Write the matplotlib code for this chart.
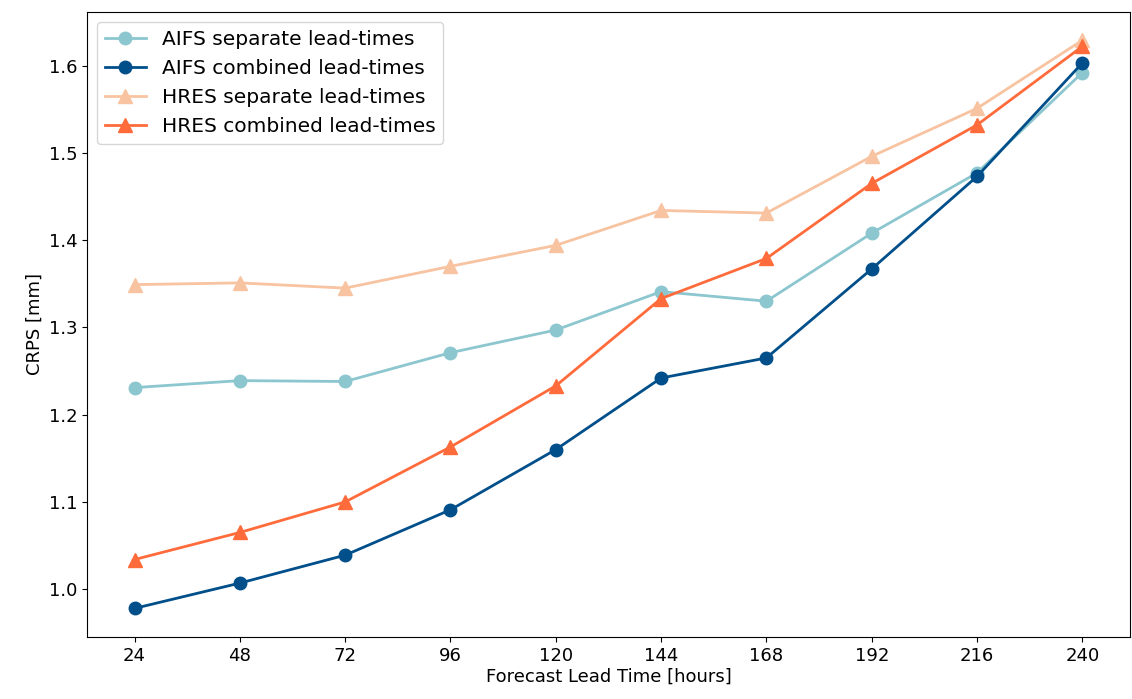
import matplotlib
matplotlib.use("Agg")
import matplotlib.pyplot as plt

lead_times = [24, 48, 72, 96, 120, 144, 168, 192, 216, 240]

aifs_separate = [1.231, 1.239, 1.238, 1.271, 1.297, 1.341, 1.330, 1.408, 1.477, 1.592]
aifs_combined = [0.978, 1.007, 1.039, 1.091, 1.160, 1.242, 1.265, 1.367, 1.473, 1.603]
hres_separate = [1.349, 1.351, 1.345, 1.370, 1.394, 1.434, 1.431, 1.496, 1.551, 1.629]
hres_combined = [1.034, 1.065, 1.100, 1.163, 1.233, 1.333, 1.379, 1.465, 1.532, 1.622]

plt.rcParams["font.family"] = ["DejaVu Sans"]
plt.rcParams["font.size"] = 13

fig = plt.figure(figsize=(11.32, 6.99), dpi=100)
ax = fig.add_axes([0.077, 0.089, 0.921, 0.894])

ax.plot(lead_times, aifs_separate, marker="o", ms=9, lw=2, color="#8cc6cf", label="AIFS separate lead-times")
ax.plot(lead_times, aifs_combined, marker="o", ms=9, lw=2, color="#004f8a", label="AIFS combined lead-times")
ax.plot(lead_times, hres_separate, marker="^", ms=10, lw=2, color="#f8c3a0", label="HRES separate lead-times")
ax.plot(lead_times, hres_combined, marker="^", ms=10, lw=2, color="#ff6b3b", label="HRES combined lead-times")

ax.set_xticks(lead_times)
ax.set_xlabel("Forecast Lead Time [hours]", labelpad=2)
ax.set_ylabel("CRPS [mm]")
ax.legend(loc="upper left", fontsize=14.5)

fig.savefig("out.png", dpi=100)
